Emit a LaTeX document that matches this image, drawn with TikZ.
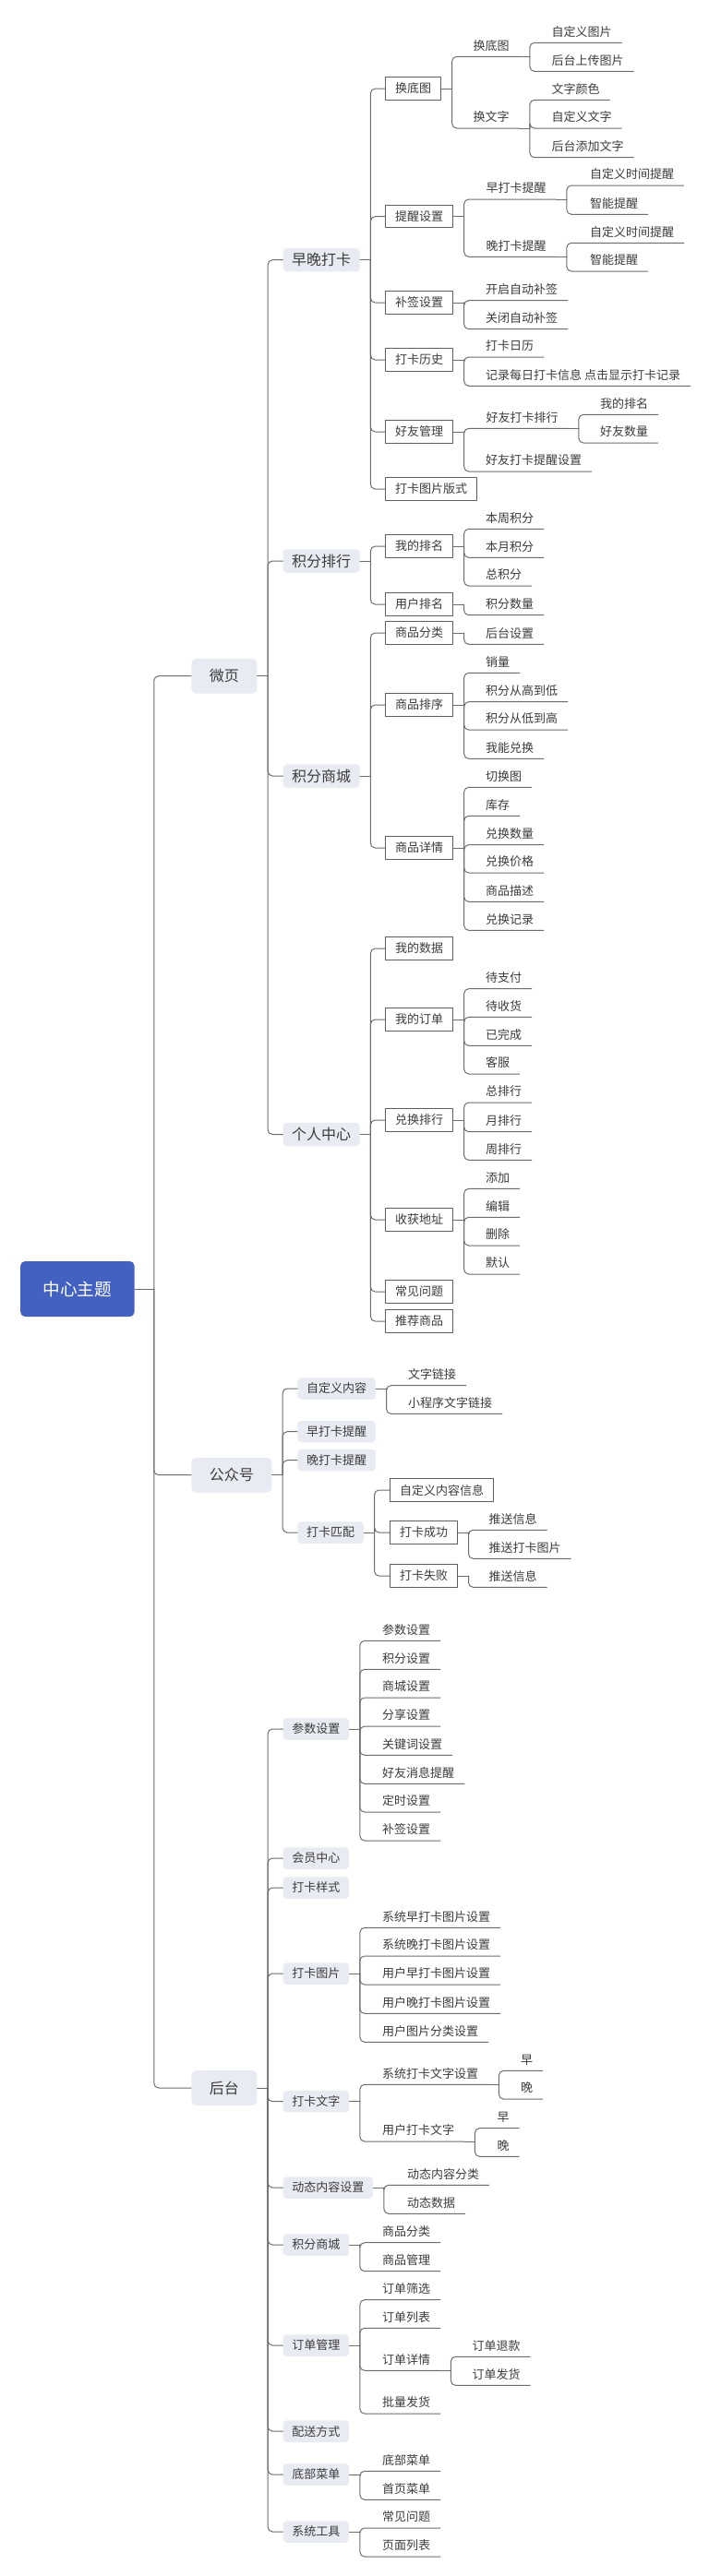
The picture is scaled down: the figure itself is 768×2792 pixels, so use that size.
\documentclass[tikz,border=0pt]{standalone}
\usepackage{fontspec}
\newfontfamily\cjk{Noto Sans CJK SC}
\definecolor{rootblue}{RGB}{66,97,192}
\definecolor{pale}{RGB}{233,235,243}
\definecolor{wire}{RGB}{110,110,110}
\definecolor{frame}{RGB}{95,95,95}
\definecolor{ink}{RGB}{60,60,60}
\begin{document}
\begin{tikzpicture}[x=1pt,y=-1pt,line cap=round,line join=round,
  every node/.style={font=\cjk\fontsize{13}{15}\selectfont,text=ink},
  link/.style={draw=wire,line width=1pt,rounded corners=5pt},
  rootbox/.style={fill=rootblue,text=white,rounded corners=5pt,inner xsep=24.5pt,minimum height=60pt,anchor=west,font=\cjk\fontsize{18.6}{21}\selectfont},
  topic/.style={fill=pale,rounded corners=5pt,inner xsep=19.5pt,minimum height=37.7pt,anchor=west,font=\cjk\fontsize{16}{18}\selectfont},
  subtopic/.style={fill=pale,rounded corners=4pt,inner xsep=9.5pt,minimum height=25.5pt,anchor=west,font=\cjk\fontsize{16}{18}\selectfont},
  subsmall/.style={fill=pale,rounded corners=4pt,inner xsep=9.75pt,minimum height=23.5pt,anchor=west},
  framebox/.style={draw=frame,line width=1pt,inner xsep=10.5pt,minimum height=24.5pt,anchor=west},
  leaf/.style={anchor=south west,inner xsep=10.5pt,inner ysep=4pt,text height=10pt,text depth=3pt}]
  \def\stub{11.5pt}
  \def\hub#1#2{\coordinate (#1-j) at ([xshift=\stub]#1.#2); \draw[link] (#1.#2) -- (#1-j);}
  \def\leafs#1#2#3{\foreach \t/\y [count=\i] in {#3} {\node[leaf] (#1-\i) at (#2,\y) {\t}; \draw[link] (#1-j) |- (#1-\i.south east);}}
  \fill[white] (0,0) rectangle (768,2792);
  \useasboundingbox (0,0) rectangle (768,2792);
  % root and main branches
  \node[rootbox] (root) at (22,1397) {中心主题};
  \node[topic] (wy) at (207.2,732.7) {微页};
  \node[topic] (gzh) at (207.2,1598.7) {公众号};
  \node[topic] (ht) at (207.2,2263) {后台};
  \coordinate (root-j) at ([xshift=21pt]root.east); \draw[link] (root.east) -- (root-j);
  \foreach \c in {wy,gzh,ht} \draw[link] (root-j) |- (\c.west);
  % 微页
  \node[subtopic] (zwdk) at (306.5,281.7) {早晚打卡};
  \node[subtopic] (jfph) at (306.5,608) {积分排行};
  \node[subtopic] (jfsc) at (306.5,841) {积分商城};
  \node[subtopic] (grzx) at (306.5,1229.5) {个人中心};
  \hub{wy}{east} \foreach \c in {zwdk,jfph,jfsc,grzx} \draw[link] (wy-j) |- (\c.west);
  % 早晚打卡
  \node[framebox] (hdt) at (417.2,96) {换底图};
  \node[framebox] (txsz) at (417.2,234.7) {提醒设置};
  \node[framebox] (bqsz) at (417.2,328) {补签设置};
  \node[framebox] (dkls) at (417.2,390) {打卡历史};
  \node[framebox] (hygl) at (417.2,468) {好友管理};
  \node[framebox] (dkbs) at (417.2,530) {打卡图片版式};
  \hub{zwdk}{east} \foreach \c in {hdt,txsz,bqsz,dkls,hygl,dkbs} \draw[link] (zwdk-j) |- (\c.west);
  \hub{hdt}{east}
  \node[leaf] (hdta) at (502,61.3) {换底图};
  \node[leaf] (hdtb) at (502,139) {换文字};
  \foreach \c in {hdta,hdtb} \draw[link] (hdt-j) |- (\c.south east);
  \hub{hdta}{south east} \leafs{hdta}{587}{自定义图片/46.3,后台上传图片/77.3}
  \hub{hdtb}{south east} \leafs{hdtb}{587}{文字颜色/108.3,自定义文字/139,后台添加文字/170.7}
  \hub{txsz}{east}
  \node[leaf] (zdk) at (516,216) {早打卡提醒};
  \node[leaf] (wdk) at (516,278.3) {晚打卡提醒};
  \foreach \c in {zdk,wdk} \draw[link] (txsz-j) |- (\c.south east);
  \hub{zdk}{south east} \leafs{zdk}{628.3}{自定义时间提醒/201,智能提醒/232.3}
  \hub{wdk}{south east} \leafs{wdk}{628.3}{自定义时间提醒/263.3,智能提醒/294}
  \hub{bqsz}{east} \leafs{bqsz}{515.5}{开启自动补签/325.7,关闭自动补签/356.7}
  \hub{dkls}{east} \leafs{dkls}{515.5}{打卡日历/387,记录每日打卡信息 点击显示打卡记录/418.3}
  \hub{hygl}{east}
  \node[leaf] (hydk) at (516,464.3) {好友打卡排行};
  \draw[link] (hygl-j) |- (hydk.south east);
  \leafs{hygl}{515.5}{好友打卡提醒设置/511}
  \hub{hydk}{south east} \leafs{hydk}{639.3}{我的排名/449.3,好友数量/480}
  % 积分排行
  \node[framebox] (wdpm) at (417.2,592) {我的排名};
  \node[framebox] (yhpm) at (417.2,655) {用户排名};
  \hub{jfph}{east} \foreach \c in {wdpm,yhpm} \draw[link] (jfph-j) |- (\c.west);
  \hub{wdpm}{east} \leafs{wdpm}{515.5}{本周积分/573.3,本月积分/604.3,总积分/635}
  \hub{yhpm}{east} \leafs{yhpm}{515.5}{积分数量/666.7}
  % 积分商城
  \node[framebox] (spfl) at (417.2,686) {商品分类};
  \node[framebox] (sppx) at (417.2,764) {商品排序};
  \node[framebox] (spxq) at (417.2,919) {商品详情};
  \hub{jfsc}{east} \foreach \c in {spfl,sppx,spxq} \draw[link] (jfsc-j) |- (\c.west);
  \hub{spfl}{east} \leafs{spfl}{515.5}{后台设置/698.3}
  \hub{sppx}{east} \leafs{sppx}{515.5}{销量/729.3,积分从高到低/760.7,积分从低到高/791,我能兑换/822.3}
  \hub{spxq}{east} \leafs{spxq}{515.5}{切换图/853.3,库存/884.3,兑换数量/915.7,兑换价格/946,商品描述/977.3,兑换记录/1008.3}
  % 个人中心
  \node[framebox] (wdsj) at (417.2,1028) {我的数据};
  \node[framebox] (wddd) at (417.2,1105) {我的订单};
  \node[framebox] (dhph) at (417.2,1214) {兑换排行};
  \node[framebox] (shdz) at (417.2,1322) {收获地址};
  \node[framebox] (cjwt) at (417.2,1400) {常见问题};
  \node[framebox] (tjsp) at (417.2,1432) {推荐商品};
  \hub{grzx}{east} \foreach \c in {wdsj,wddd,dhph,shdz,cjwt,tjsp} \draw[link] (grzx-j) |- (\c.west);
  \hub{wddd}{east} \leafs{wddd}{515.5}{待支付/1071.7,待收货/1102.3,已完成/1133.3,客服/1164}
  \hub{dhph}{east} \leafs{dhph}{515.5}{总排行/1195,月排行/1226.7,周排行/1257.3}
  \hub{shdz}{east} \leafs{shdz}{515.5}{添加/1288.3,编辑/1319.3,删除/1350,默认/1381}
  % 公众号
  \node[subsmall] (zdynr) at (322.2,1505) {自定义内容};
  \node[subsmall] (zdktx) at (322.2,1551.7) {早打卡提醒};
  \node[subsmall] (wdktx) at (322.2,1582.7) {晚打卡提醒};
  \node[subsmall] (dkpp) at (322.2,1661) {打卡匹配};
  \hub{gzh}{east} \foreach \c in {zdynr,zdktx,wdktx,dkpp} \draw[link] (gzh-j) |- (\c.west);
  \hub{zdynr}{east} \leafs{zdynr}{431.5}{文字链接/1501.7,小程序文字链接/1532.3}
  \node[framebox] (zdyxx) at (422,1615) {自定义内容信息};
  \node[framebox] (dkcg) at (422,1661) {打卡成功};
  \node[framebox] (dksb) at (422,1708) {打卡失败};
  \hub{dkpp}{east} \foreach \c in {zdyxx,dkcg,dksb} \draw[link] (dkpp-j) |- (\c.west);
  \hub{dkcg}{east} \leafs{dkcg}{519}{推送信息/1658.3,推送打卡图片/1689.3}
  \hub{dksb}{east} \leafs{dksb}{519}{推送信息/1720.3}
  % 后台
  \node[subsmall] (cssz) at (306.5,1874) {参数设置};
  \node[subsmall] (hyzx) at (306.5,2014) {会员中心};
  \node[subsmall] (dkys) at (306.5,2046) {打卡样式};
  \node[subsmall] (dktp) at (306.5,2139) {打卡图片};
  \node[subsmall] (dkwz) at (306.5,2277.7) {打卡文字};
  \node[subsmall] (dtnr) at (306.5,2371) {动态内容设置};
  \node[subsmall] (htsc) at (306.5,2433) {积分商城};
  \node[subsmall] (ddgl) at (306.5,2542) {订单管理};
  \node[subsmall] (psfs) at (306.5,2635) {配送方式};
  \node[subsmall] (dbcd) at (306.5,2682) {底部菜单};
  \node[subsmall] (xtgj) at (306.5,2744) {系统工具};
  \hub{ht}{east} \foreach \c in {cssz,hyzx,dkys,dktp,dkwz,dtnr,htsc,ddgl,psfs,dbcd,xtgj} \draw[link] (ht-j) |- (\c.west);
  \hub{cssz}{east} \leafs{cssz}{403.5}{参数设置/1778.3,积分设置/1809.3,商城设置/1840,分享设置/1871,关键词设置/1902.3,好友消息提醒/1933.3,定时设置/1964,补签设置/1995}
  \hub{dktp}{east} \leafs{dktp}{403.5}{系统早打卡图片设置/2089.3,系统晚打卡图片设置/2120,用户早打卡图片设置/2151,用户晚打卡图片设置/2182.3,用户图片分类设置/2213.3}
  \hub{dkwz}{east}
  \node[leaf] (xtwz) at (403.5,2259.3) {系统打卡文字设置};
  \node[leaf] (yhwz) at (403.5,2321) {用户打卡文字};
  \foreach \c in {xtwz,yhwz} \draw[link] (dkwz-j) |- (\c.south east);
  \hub{xtwz}{south east} \leafs{xtwz}{553.4}{早/2244.3,晚/2275}
  \hub{yhwz}{south east} \leafs{yhwz}{527.8}{早/2306.7,晚/2337.3}
  \hub{dtnr}{east} \leafs{dtnr}{430.4}{动态内容分类/2368.3,动态数据/2399.3}
  \hub{htsc}{east} \leafs{htsc}{403.5}{商品分类/2430.7,商品管理/2461.7}
  \hub{ddgl}{east}
  \node[leaf] (ddxq) at (403.5,2569.3) {订单详情};
  \draw[link] (ddgl-j) |- (ddxq.south east);
  \leafs{ddgl}{403.5}{订单筛选/2492.7,订单列表/2523.3,批量发货/2616}
  \hub{ddxq}{south east} \leafs{ddxq}{500.9}{订单退款/2554.3,订单发货/2585.3}
  \hub{dbcd}{east} \leafs{dbcd}{403.5}{底部菜单/2678.3,首页菜单/2709.3}
  \hub{xtgj}{east} \leafs{xtgj}{403.5}{常见问题/2740,页面列表/2771}
\end{tikzpicture}
\end{document}
